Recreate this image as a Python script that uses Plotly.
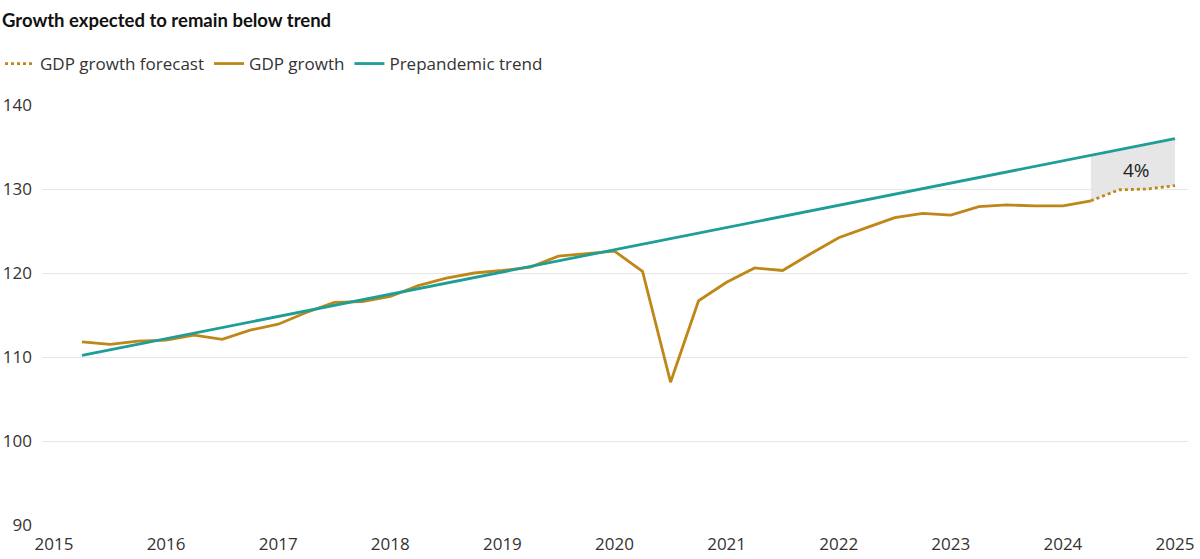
import numpy as np
import plotly.graph_objects as go

# --- data (quarterly index) ---
gdp_x = [
    2015.25, 2015.5, 2015.75, 2016.0, 2016.25, 2016.5, 2016.75, 2017.0,
    2017.25, 2017.5, 2017.75, 2018.0, 2018.25, 2018.5, 2018.75, 2019.0,
    2019.25, 2019.5, 2019.75, 2020.0, 2020.25, 2020.5, 2020.75, 2021.0,
    2021.25, 2021.5, 2021.75, 2022.0, 2022.25, 2022.5, 2022.75, 2023.0,
    2023.25, 2023.5, 2023.75, 2024.0, 2024.25,
]
gdp_y = [
    111.8, 111.5, 111.9, 112.0, 112.6, 112.1, 113.2, 113.9,
    115.3, 116.5, 116.6, 117.2, 118.5, 119.4, 120.0, 120.3,
    120.7, 122.0, 122.3, 122.6, 120.2, 107.0, 116.7, 118.9,
    120.6, 120.3, 122.3, 124.2, 125.4, 126.6, 127.1, 126.9,
    127.9, 128.1, 128.0, 128.0, 128.6,
]
forecast_x = [2024.25, 2024.5, 2024.75, 2025.0]
forecast_y = [128.6, 129.9, 130.0, 130.4]

trend_x = [2015.25, 2025.0]
trend_y = [110.2, 136.0]

year_ticks = list(range(2015, 2026))
y_ticks = [90, 100, 110, 120, 130, 140]

GOLD = "#BF8718"
TEAL = "#1E9E97"
TEXT = "#333333"
FONT = "'Open Sans', Lato, sans-serif"

W, H = 1200, 559
ML, MR, MT, MB = 42, 12, 105, 34

# trend values under the forecast window, for the shaded gap
gap_top = np.interp(forecast_x, trend_x, trend_y)

fig = go.Figure()

# shaded gap between trend and forecast
fig.add_trace(go.Scatter(
    x=forecast_x, y=forecast_y, mode="lines", line=dict(width=0),
    showlegend=False, hoverinfo="skip",
))
fig.add_trace(go.Scatter(
    x=forecast_x, y=gap_top, mode="lines", line=dict(width=0),
    fill="tonexty", fillcolor="#e6e6e6", showlegend=False, hoverinfo="skip",
))

fig.add_trace(go.Scatter(
    x=forecast_x, y=forecast_y, mode="lines", name="GDP growth forecast",
    line=dict(color=GOLD, width=2.8, dash="dot"),
))
fig.add_trace(go.Scatter(
    x=gdp_x, y=gdp_y, mode="lines", name="GDP growth",
    line=dict(color=GOLD, width=2.8),
))
fig.add_trace(go.Scatter(
    x=trend_x, y=trend_y, mode="lines", name="Prepandemic trend",
    line=dict(color=TEAL, width=2.8),
))

fig.add_annotation(
    x=2024.66, y=132.3, text="4%", showarrow=False,
    font=dict(size=19, color="#222222", family=FONT),
)

# title as an annotation so it sits flush left
fig.add_annotation(
    text="<b>Growth expected to remain below trend</b>",
    xref="paper", yref="paper",
    x=(0 - ML) / (W - ML - MR), y=1 + (MT - 20) / (H - MT - MB),
    xanchor="left", yanchor="middle", showarrow=False,
    font=dict(size=18.5, color="#111111", family="Lato, sans-serif"),
)

fig.update_layout(
    width=W, height=H,
    paper_bgcolor="white", plot_bgcolor="white",
    font=dict(family=FONT, color=TEXT, size=17),
    margin=dict(l=ML, r=MR, t=MT, b=MB),
    legend=dict(
        orientation="h", xref="container", x=0, xanchor="left",
        yref="container", y=1 - 64 / H, yanchor="middle",
        font=dict(size=17, color=TEXT), itemwidth=30,
        traceorder="normal",
    ),
    xaxis=dict(
        range=[2014.893, 2025.116], tickvals=year_ticks,
        ticktext=[str(t) for t in year_ticks],
        showgrid=False, zeroline=False, showline=False, ticks="",
        tickfont=dict(size=17, color=TEXT), ticklabelstandoff=7,
        automargin=False,
    ),
    yaxis=dict(
        range=[90, 140], tickvals=y_ticks,
        showgrid=True, gridcolor="#e6e6e6", gridwidth=1,
        zeroline=False, showline=False, ticks="",
        tickfont=dict(size=17, color=TEXT), ticklabelstandoff=9,
        automargin=False,
    ),
    showlegend=True,
)

# drop the default 8px body margin so the figure sits at the page corner
fig.write_html(
    "out.html",
    config={"displayModeBar": False},
    post_script="document.body.style.margin='0';",
)
